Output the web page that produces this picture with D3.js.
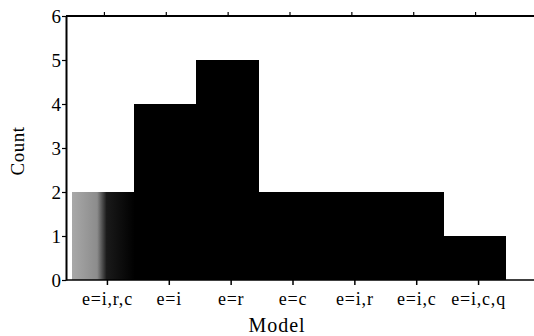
<!DOCTYPE html>
<html><head><meta charset="utf-8">
<script src="https://cdn.jsdelivr.net/npm/d3@7"></script>
<style>body{margin:0;background:#fff}svg{display:block}</style>
</head><body>
<script>
const categories = ["e=i,r,c","e=i","e=r","e=c","e=i,r","e=i,c","e=i,c,q"];
const counts = [2,4,5,2,2,2,1];
const yTicks = [0,1,2,3,4,5,6];

const W = 534, H = 336;
const svg = d3.select("body").append("svg").attr("width", W).attr("height", H);
const font = "'Liberation Serif', 'Times New Roman', serif";

const x = d3.scaleBand().domain(categories).range([72, 505]).padding(0);
const y = d3.scaleLinear().domain([0, 6]).range([280, 16]);

const defs = svg.append("defs");
const g = defs.append("linearGradient").attr("id","gr").attr("x1","0").attr("x2","1");
g.append("stop").attr("offset","0").attr("stop-color","#a8a8a8");
g.append("stop").attr("offset","0.4").attr("stop-color","#8c8c8c");
g.append("stop").attr("offset","0.55").attr("stop-color","#1a1a1a");
g.append("stop").attr("offset","1").attr("stop-color","#000");

svg.selectAll("rect.bar").data(categories).enter().append("rect")
  .attr("x", d => x(d))
  .attr("y", (d,i) => y(counts[i]))
  .attr("width", x.bandwidth() + 1)
  .attr("height", (d,i) => y(0) - y(counts[i]))
  .attr("shape-rendering","crispEdges")
  .attr("fill", (d,i) => i === 0 ? "url(#gr)" : "#000");

// bottom axis
const off = 4.5;
const xa = svg.append("g").attr("transform", `translate(${off},280)`)
  .call(d3.axisBottom(x).tickSize(5).tickSizeOuter(0).tickPadding(6));
xa.select(".domain").remove();
xa.selectAll("line").attr("stroke","#000").attr("stroke-width",1.5);
xa.selectAll("text").attr("font-family",font).attr("font-size",18).attr("letter-spacing","0.8px")
  .attr("fill","#000").attr("dy","0.75em");
svg.append("line").attr("x1",66).attr("x2",W).attr("y1",280).attr("y2",280).attr("stroke","#000").attr("stroke-width",1.5);

// top axis
const xt = svg.append("g").attr("transform", `translate(${off - 3},16)`)
  .call(d3.axisTop(x).tickSize(4).tickSizeOuter(0).tickFormat(""));
xt.select(".domain").remove();
xt.selectAll("line").attr("stroke","#000").attr("stroke-width",1.2);
svg.append("line").attr("x1",66).attr("x2",W).attr("y1",16).attr("y2",16).attr("stroke","#000").attr("stroke-width",2);

// left axis
const ya = svg.append("g").attr("transform","translate(66,0)")
  .call(d3.axisLeft(y).tickValues(yTicks).tickFormat(d3.format("d")).tickSize(4).tickSizeOuter(0).tickPadding(1));
ya.select(".domain").attr("stroke","#000").attr("stroke-width",2);
ya.selectAll("line").attr("stroke","#000").attr("stroke-width",1.2);
ya.selectAll("text").attr("font-family",font).attr("font-size",19).attr("fill","#000");

svg.append("text").attr("x", 277).attr("y", 332).attr("text-anchor","middle")
  .attr("font-family",font).attr("font-size",20).attr("letter-spacing","1px").text("Model");
svg.append("text").attr("transform","translate(24,151) rotate(-90)").attr("text-anchor","middle")
  .attr("font-family",font).attr("font-size",19).attr("letter-spacing","0.5px").text("Count");
</script>
</body></html>
